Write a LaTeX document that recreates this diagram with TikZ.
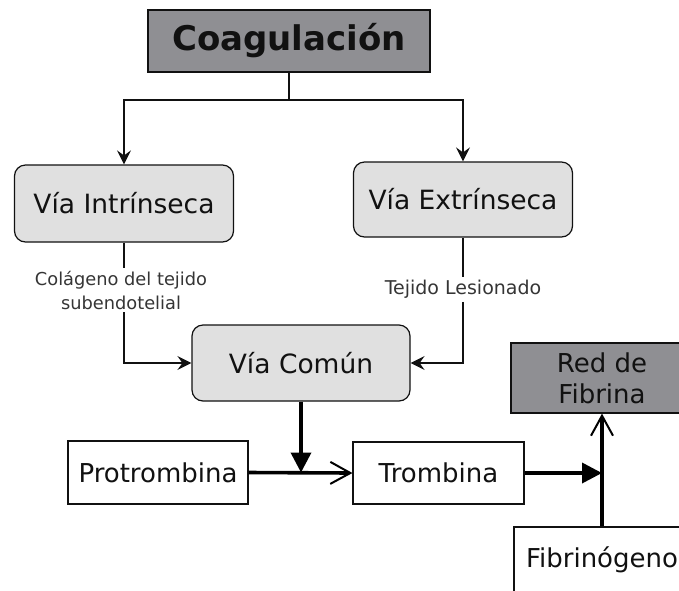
\documentclass[tikz,border=0pt]{standalone}
\usepackage{fontspec}
\setmainfont{DejaVu Sans}
\usetikzlibrary{arrows.meta}
\definecolor{titlegray}{HTML}{8F8F93}
\definecolor{softgray}{HTML}{E0E0E0}
\definecolor{ink}{HTML}{111111}
\tikzset{
  titlebox/.style={draw=ink, line width=1.2pt, fill=titlegray, inner sep=0pt,
    font=\fontsize{34}{40}\selectfont\bfseries, text=ink},
  roundbox/.style={draw=ink, line width=1.2pt, fill=softgray, rounded corners=11pt,
    inner sep=0pt, minimum width=219pt, font=\fontsize{26.5}{30}\selectfont, text=ink},
  plainbox/.style={draw=ink, line width=1.2pt, fill=white, inner sep=0pt,
    font=\fontsize{26}{30}\selectfont, text=ink},
  darkbox/.style={draw=ink, line width=1.2pt, fill=titlegray, inner sep=0pt,
    align=center, font=\fontsize{26}{31}\selectfont, text=ink},
  lab/.style={align=center, inner sep=3pt, text=ink!85},
  thin/.style={draw=ink, line width=1.3pt},
  thinarrow/.style={thin, -{Stealth[length=14pt, width=14pt, inset=5pt]}},
  thickline/.style={draw=black, line width=3.6pt},
  openarrow/.style={thickline, -{Straight Barb[length=20pt, width=22pt, line width=2pt]}},
  fillarrow/.style={thickline, -{Triangle[length=20pt, width=20pt]}}
}
\begin{document}
\begin{tikzpicture}[x=1pt, y=-1pt]
\useasboundingbox (0,0) rectangle (679,590);
\clip (0,0) rectangle (679,590);

\node[titlebox, minimum width=282pt, minimum height=62pt] (title) at (289,41) {Coagulación};
\node[roundbox, minimum height=77pt] (intr) at (124,203.5) {Vía Intrínseca};
\node[roundbox, minimum height=75pt] (extr) at (463,199.5) {Vía Extrínseca};
\node[roundbox, minimum width=218pt, minimum height=76pt] (comun) at (301,363) {Vía Común};
\node[plainbox, minimum width=180pt, minimum height=63pt] (prot) at (158,472.5) {Protrombina};
\node[plainbox, minimum width=171pt, minimum height=62pt] (tromb) at (438.5,473) {Trombina};
\node[darkbox, minimum width=182pt, minimum height=70pt] (red) at (602,378) {Red de\\Fibrina};
\node[plainbox, minimum width=176pt, minimum height=66pt] (fib) at (602,560) {Fibrinógeno};

\node[lab, font=\fontsize{17.8}{24}\selectfont] (lab1) at (121,290) {Colágeno del tejido\\subendotelial};
\node[lab, font=\fontsize{19}{24}\selectfont] (lab2) at (463,289.5) {Tejido Lesionado};

\coordinate (split) at (title.south |- 0,100);
\coordinate (j1) at (comun.south |- prot.east);
\coordinate (j2) at (fib.north |- tromb.east);

\draw[thin] (title.south) -- (split);
\draw[thinarrow] (split) -| (intr.north);
\draw[thinarrow] (split) -| (extr.north);

\draw[thin] (intr.south) -- (intr.south |- lab1.north);
\draw[thinarrow] (intr.south |- lab1.south) |- (comun.west);
\draw[thin] (extr.south) -- (extr.south |- lab2.north);
\draw[thinarrow] (extr.south |- lab2.south) |- (comun.east);

\draw[fillarrow] (comun.south) -- (j1);
\draw[openarrow] (prot.east) -- (tromb.west);
\draw[fillarrow] (tromb.east) -- (j2);
\draw[openarrow] (fib.north) -- (red.south);
\end{tikzpicture}
\end{document}
